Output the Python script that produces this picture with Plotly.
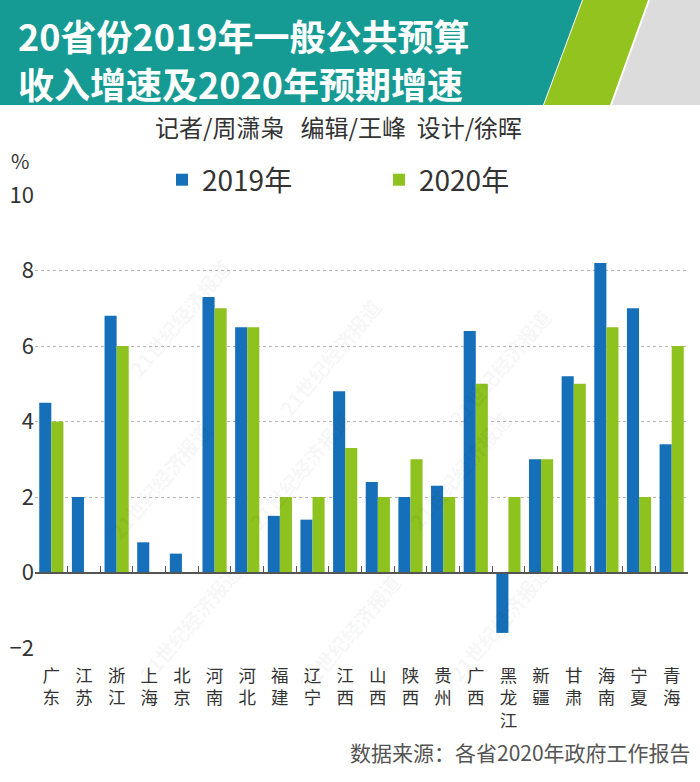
import plotly.graph_objects as go

provinces = ["广东", "江苏", "浙江", "上海", "北京", "河南", "河北", "福建", "辽宁", "江西",
             "山西", "陕西", "贵州", "广西", "黑龙江", "新疆", "甘肃", "海南", "宁夏", "青海"]
growth_2019 = [4.5, 2.0, 6.8, 0.8, 0.5, 7.3, 6.5, 1.5, 1.4, 4.8,
               2.4, 2.0, 2.3, 6.4, -1.6, 3.0, 5.2, 8.2, 7.0, 3.4]
growth_2020 = [4.0, None, 6.0, None, None, 7.0, 6.5, 2.0, 2.0, 3.3,
               2.0, 3.0, 2.0, 5.0, 2.0, 3.0, 5.0, 6.5, 2.0, 6.0]
y_ticks = [-2, 0, 2, 4, 6, 8, 10]
y_range = [-2, 10]

BLUE = "#1670b9"
GREEN = "#8dc21f"
TEAL = "#159b93"
GREY_BAND = "#dcdcdc"
FONT = "Noto Sans CJK SC"

W, H = 700, 782
L, R, T, B = 35, 12, 195, 134
PW, PH = W - L - R, H - T - B


def px(x):
    return (x - L) / PW


def py(y):
    return (H - B - y) / PH


cat_labels = ["<br>".join(list(p)) for p in provinces]

fig = go.Figure()
fig.add_trace(go.Bar(name="2019年", x=cat_labels, y=growth_2019, marker_color=BLUE,
                     marker_line_width=0))
fig.add_trace(go.Bar(name="2020年", x=cat_labels, y=growth_2020, marker_color=GREEN,
                     marker_line_width=0))
# invisible helper trace for the zero-line axis
fig.add_trace(go.Scatter(x=cat_labels, y=[0] * len(cat_labels), xaxis="x2", mode="lines",
                         line=dict(width=0), opacity=0, showlegend=False, hoverinfo="skip"))

zero_pos = (0 - y_range[0]) / (y_range[1] - y_range[0])

shapes = [
    dict(type="path", xref="paper", yref="paper", layer="below",
         path=f"M {px(0)},{py(0)} L {px(582)},{py(0)} L {px(543)},{py(105)} L {px(0)},{py(105)} Z",
         fillcolor=TEAL, line=dict(width=0)),
    dict(type="path", xref="paper", yref="paper", layer="below",
         path=f"M {px(583)},{py(0)} L {px(648)},{py(0)} L {px(610)},{py(105)} L {px(544)},{py(105)} Z",
         fillcolor="#92c31e", line=dict(width=0)),
    dict(type="path", xref="paper", yref="paper", layer="below",
         path=f"M {px(650)},{py(0)} L {px(700)},{py(0)} L {px(700)},{py(105)} L {px(612)},{py(105)} Z",
         fillcolor=GREY_BAND, line=dict(width=0)),
]

annotations = [
    dict(text="20省份2019年一般公共预算", x=px(16), y=py(35), xref="paper", yref="paper",
         xanchor="left", yanchor="middle", showarrow=False,
         font=dict(family=FONT, size=36, color="white", weight="bold")),
    dict(text="收入增速及2020年预期增速", x=px(16), y=py(83), xref="paper", yref="paper",
         xanchor="left", yanchor="middle", showarrow=False,
         font=dict(family=FONT, size=36, color="white", weight="bold")),
    dict(text="记者/周潇枭   编辑/王峰  设计/徐晖", x=px(338), y=py(126), xref="paper", yref="paper",
         xanchor="center", yanchor="middle", showarrow=False,
         font=dict(family=FONT, size=24, color="#333333")),
    dict(text="%", x=px(20), y=py(160), xref="paper", yref="paper",
         xanchor="center", yanchor="middle", showarrow=False,
         font=dict(family=FONT, size=20, color="#333333")),
    dict(text="数据来源：各省2020年政府工作报告", x=px(693), y=py(752), xref="paper", yref="paper",
         xanchor="right", yanchor="middle", showarrow=False,
         font=dict(family=FONT, size=21, color="#555555")),
]

# faint watermarks
for (wx, wy) in [(120, 250), (330, 290), (560, 300), (100, 480), (300, 470), (520, 470),
                 (130, 690), (350, 700), (560, 690)]:
    annotations.append(dict(text="21世纪经济报道", x=px(wx), y=py(wy), xref="paper", yref="paper",
                            showarrow=False, textangle=-50,
                            font=dict(family=FONT, size=20, color="rgba(0,0,0,0.05)", weight="bold")))

fig.update_layout(
    width=W, height=H,
    margin=dict(l=L, r=R, t=T, b=B, pad=0, autoexpand=False),
    paper_bgcolor="white", plot_bgcolor="white",
    barmode="group", bargap=0.26, bargroupgap=0,
    font=dict(family=FONT, color="#333333"),
    showlegend=True,
    legend=dict(orientation="h", x=px(162), y=py(180), xref="paper", yref="paper",
                xanchor="left", yanchor="middle", entrywidth=172, entrywidthmode="pixels",
                font=dict(family=FONT, size=28, color="#333333"), itemsizing="constant",
                bgcolor="rgba(0,0,0,0)", traceorder="normal"),
    xaxis=dict(type="category", showgrid=False, showline=False, ticks="", automargin=False,
               tickfont=dict(family=FONT, size=17.5, color="#333333"), tickangle=0,
               ticklabelstandoff=15),
    xaxis2=dict(type="category", overlaying="x", matches="x", anchor="free", position=zero_pos,
                side="bottom", showline=True, linecolor="#555555", linewidth=1.5,
                ticks="inside", tickson="boundaries", ticklen=6, tickcolor="#555555", tickwidth=1,
                showticklabels=False, showgrid=False),
    yaxis=dict(range=y_range, tickvals=y_ticks, showgrid=True, gridcolor="#b5b5b5",
               griddash="dot", gridwidth=1, zeroline=False, showline=False, ticks="",
               automargin=False, tickfont=dict(family=FONT, size=22, color="#333333")),
    shapes=shapes,
    annotations=annotations,
)

fig.write_html("out.html", config={"displayModeBar": False},
               post_script="document.body.style.margin='0';document.body.style.overflow='hidden';")
